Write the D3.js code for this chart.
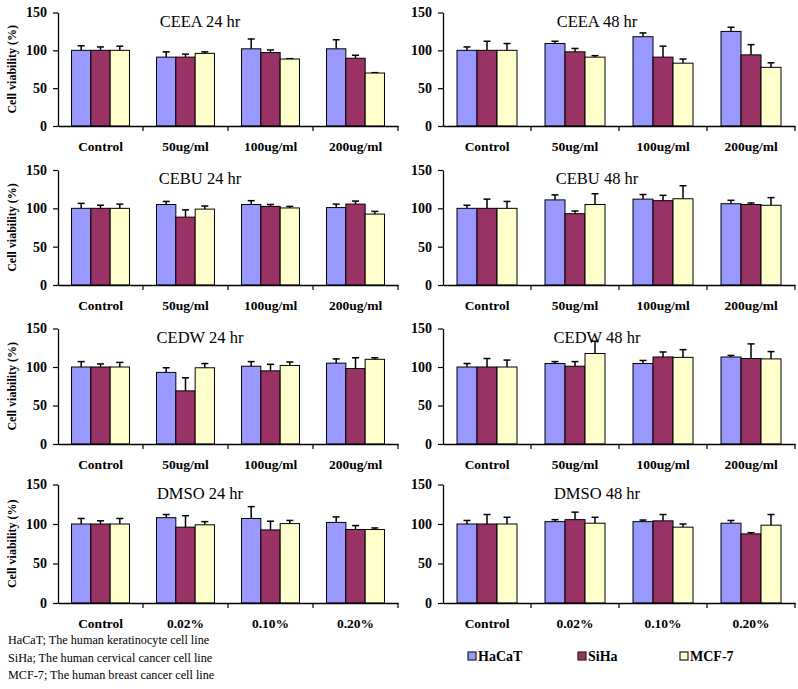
<!DOCTYPE html>
<html><head><meta charset="utf-8">
<script src="https://cdn.jsdelivr.net/npm/d3@7"></script>
<style>body{margin:0;background:#fff}svg{display:block}</style>
</head><body>
<script>
const series = ["HaCaT","SiHa","MCF-7"];
const seriesColors = ["#9999FF","#993366","#FFFFCC"];
const concCategories = ["Control","50ug/ml","100ug/ml","200ug/ml"];
const dmsoCategories = ["Control","0.02%","0.10%","0.20%"];
const yTicks = [0,50,100,150];
const panelTitles = ["CEEA 24 hr","CEEA 48 hr","CEBU 24 hr","CEBU 48 hr","CEDW 24 hr","CEDW 48 hr","DMSO 24 hr","DMSO 48 hr"];

const ceea24 = [[100,100,100],[91,91,96],[102,97,88.5],[102,89.5,70]];
const ceea24Err = [[6,4.5,5.5],[7,4,2],[13,3.5,0.5],[12,4,0.5]];
const ceea48 = [[100,100,100],[109,98,91],[118,91,83],[125,94,77.5]];
const ceea48Err = [[4.5,12,9],[3,4.5,2],[5,14.5,5.5],[5.5,13.5,6]];
const cebu24 = [[100,100,100],[105,88.5,99],[105,102.5,100.5],[101,105.5,92.5]];
const cebu24Err = [[6.5,4,5.5],[4,9.5,4],[5,2.5,2],[4.5,4,3.5]];
const cebu48 = [[100,100,100],[111,93,105],[112,110,112.5],[106,105,104]];
const cebu48Err = [[4,12,9],[6.5,3.5,14],[6,7,17],[4.5,2,10]];
const cedw24 = [[100,100,100],[93,69,99],[101,95,102],[105,98,110]];
const cedw24Err = [[7,4,6],[6,17,5.5],[6,8.5,4.5],[5.5,14,2]];
const cedw48 = [[100,100,100],[104.5,101,117.5],[104.5,113,112.5],[113,111,110.5]];
const cedw48Err = [[4.5,11,9],[2.5,6,16],[4,6.5,10],[2,19,9.5]];
const dmso24 = [[100,100,100],[108,96,99],[107,92.5,100.5],[102,93,93]];
const dmso24Err = [[7,4,7],[4,14.5,4],[15,11,4],[7,5,2]];
const dmso48 = [[100,100,100],[103,105.5,101],[103,104,96],[101,87.5,98.5]];
const dmso48Err = [[4.5,12,8.5],[2.5,9.5,7.5],[2,8,4],[3.5,1.5,13.5]];

const footnotes = ["HaCaT; The human keratinocyte cell line","SiHa; The human cervical cancer cell line","MCF-7; The human breast cancer cell line"];

const panels = [
  {title:panelTitles[0], cats:concCategories, vals:ceea24, errs:ceea24Err},
  {title:panelTitles[1], cats:concCategories, vals:ceea48, errs:ceea48Err},
  {title:panelTitles[2], cats:concCategories, vals:cebu24, errs:cebu24Err},
  {title:panelTitles[3], cats:concCategories, vals:cebu48, errs:cebu48Err},
  {title:panelTitles[4], cats:concCategories, vals:cedw24, errs:cedw24Err},
  {title:panelTitles[5], cats:concCategories, vals:cedw48, errs:cedw48Err},
  {title:panelTitles[6], cats:dmsoCategories, vals:dmso24, errs:dmso24Err},
  {title:panelTitles[7], cats:dmsoCategories, vals:dmso48, errs:dmso48Err}
];

const W = 798, H = 689;
const FONT = "'Liberation Serif','Times New Roman',serif";
const svg = d3.select("body").append("svg").attr("width",W).attr("height",H)
  .style("font-family",FONT);

const rowTop = [12.5,170,328.5,484.5];
const rowBottom = [126,285,444,603];
const colLeft = [58,443];
const colRight = [398,795];
const titleX = [200,597];

panels.forEach((p,i)=>{
  const row = Math.floor(i/2), col = i%2;
  const g = svg.append("g");
  const x0 = d3.scaleBand().domain(p.cats).range([colLeft[col],colRight[col]]).paddingInner(0).paddingOuter(0);
  const x1 = d3.scaleBand().domain(series).range([0,x0.bandwidth()]).paddingInner(0).paddingOuter(0.7);
  const y = d3.scaleLinear().domain([0,150]).range([rowBottom[row],rowTop[row]]);

  p.cats.forEach((c,ci)=>{
    series.forEach((s,si)=>{
      const v = p.vals[ci][si], e = p.errs[ci][si];
      const bx = x0(c)+x1(s), bw = x1.bandwidth();
      const cx = bx + bw/2;
      g.append("line").attr("x1",cx).attr("x2",cx).attr("y1",y(v)).attr("y2",y(v+e))
        .attr("stroke","#000").attr("stroke-width",1.5);
      g.append("line").attr("x1",cx-3.5).attr("x2",cx+3.5).attr("y1",y(v+e)).attr("y2",y(v+e))
        .attr("stroke","#000").attr("stroke-width",1.5);
      g.append("rect").attr("x",bx).attr("y",y(v)).attr("width",bw).attr("height",y(0)-y(v))
        .attr("fill",seriesColors[si]).attr("stroke","#000").attr("stroke-width",1);
    });
  });

  const ya = g.append("g").attr("transform",`translate(${colLeft[col]},0)`)
    .call(d3.axisLeft(y).tickValues(yTicks).tickSize(5).tickSizeOuter(0).tickPadding(6));
  ya.attr("font-family",FONT);
  ya.select(".domain").attr("stroke","#000").attr("stroke-width",1.3);
  ya.selectAll(".tick line").attr("stroke","#000").attr("stroke-width",1.2);
  ya.selectAll(".tick text").attr("font-size",14).attr("font-weight","bold").attr("fill","#000");

  const xa = g.append("g").attr("transform",`translate(0,${y(0)})`)
    .call(d3.axisBottom(x0).tickSize(0).tickPadding(15));
  xa.attr("font-family",FONT);
  xa.select(".domain").attr("stroke","#000").attr("stroke-width",1.3);
  xa.selectAll(".tick text").attr("font-size",13.5).attr("font-weight","bold").attr("fill","#000");
  p.cats.forEach(c=>{
    const bxp = x0(c)+x0.step();
    g.append("line").attr("x1",bxp).attr("x2",bxp).attr("y1",y(0)).attr("y2",y(0)+5)
      .attr("stroke","#000").attr("stroke-width",1.2);
  });

  g.append("text").attr("x",titleX[col]).attr("y",rowTop[row]+14).attr("text-anchor","middle")
    .attr("font-size",16.5).attr("fill","#000").text(p.title);

  if(col===0){
    const cy = (rowTop[row]+rowBottom[row])/2;
    g.append("text").attr("transform",`translate(16,${cy}) rotate(-90)`).attr("text-anchor","middle")
      .attr("font-size",12).attr("font-weight","bold").attr("fill","#000").text("Cell viability (%)");
  }
});

footnotes.forEach((t,i)=>{
  svg.append("text").attr("x",8).attr("y",644+i*17.5).attr("font-size",12.2).attr("fill","#000").text(t);
});

const legX = [468,578,680];
series.forEach((s,i)=>{
  svg.append("rect").attr("x",legX[i]).attr("y",652).attr("width",8).attr("height",8)
    .attr("fill",seriesColors[i]).attr("stroke","#222").attr("stroke-width",1.2);
  svg.append("text").attr("x",legX[i]+10).attr("y",661).attr("font-size",14).attr("font-weight","bold")
    .attr("fill","#000").text(s);
});
</script>
</body></html>
